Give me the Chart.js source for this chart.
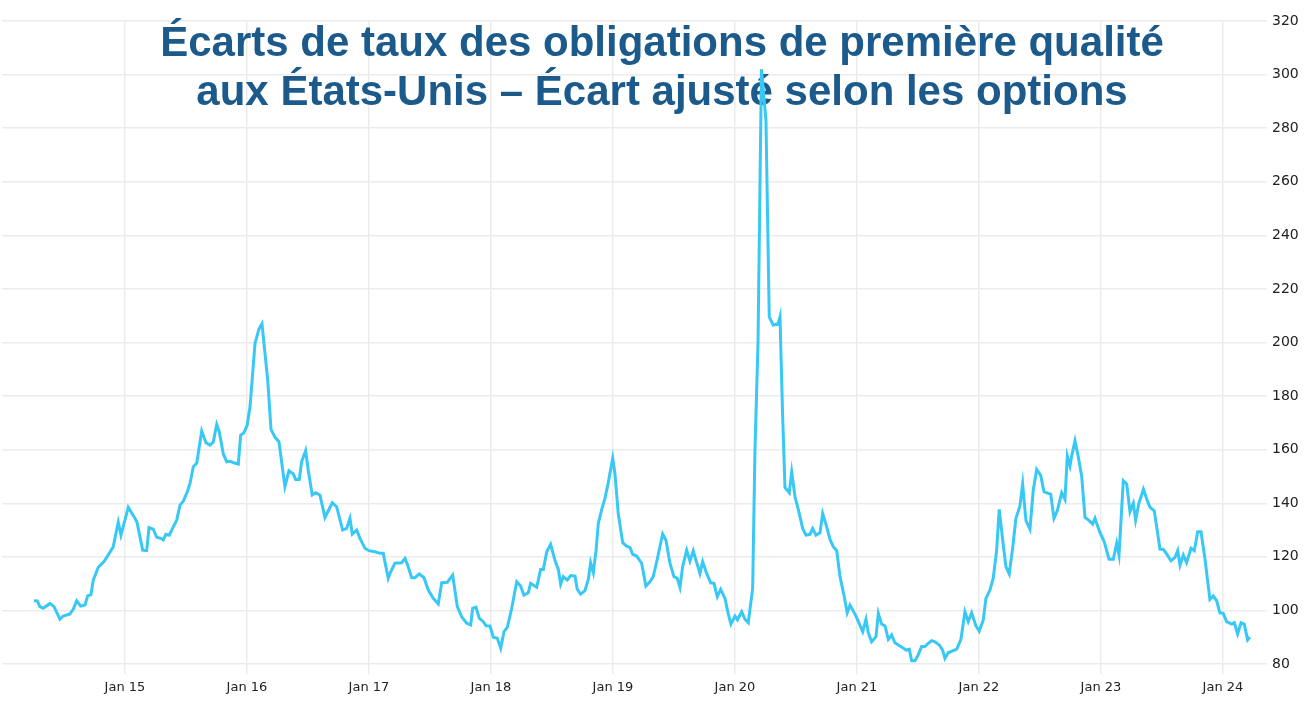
<!DOCTYPE html>
<html>
<head>
<meta charset="utf-8">
<script src="https://cdn.jsdelivr.net/npm/chart.js@4"></script>
<style>
  html, body { margin: 0; padding: 0; background: #fff; }
  #wrap { position: relative; width: 1312px; height: 708px; }
</style>
</head>
<body>
<div id="wrap"><canvas id="myChart" width="1312" height="708"></canvas></div>
<script>
// title lines
const titleLines = [
  'Écarts de taux des obligations de première qualité',
  'aux États-Unis – Écart ajusté selon les options'
];

// dates as decimal years
const dates = [
  2014.254, 2014.281, 2014.303, 2014.330, 2014.385, 2014.418, 2014.467, 2014.494, 2014.549, 2014.576,
  2014.604, 2014.637, 2014.672, 2014.694, 2014.721, 2014.740, 2014.781, 2014.828, 2014.871, 2014.904,
  2014.945, 2014.967, 2015.027, 2015.074, 2015.098, 2015.145, 2015.178, 2015.197, 2015.232, 2015.260,
  2015.293, 2015.314, 2015.336, 2015.363, 2015.396, 2015.424, 2015.451, 2015.478, 2015.511, 2015.533,
  2015.560, 2015.588, 2015.629, 2015.664, 2015.697, 2015.724, 2015.752, 2015.773, 2015.806, 2015.834,
  2015.861, 2015.893, 2015.929, 2015.948, 2015.975, 2016.002, 2016.025, 2016.066, 2016.098, 2016.123,
  2016.170, 2016.197, 2016.230, 2016.262, 2016.311, 2016.344, 2016.380, 2016.399, 2016.429, 2016.448,
  2016.481, 2016.502, 2016.535, 2016.563, 2016.598, 2016.639, 2016.699, 2016.735, 2016.784, 2016.817,
  2016.844, 2016.863, 2016.899, 2016.926, 2016.967, 2017.000, 2017.049, 2017.090, 2017.117, 2017.158,
  2017.178, 2017.213, 2017.268, 2017.295, 2017.314, 2017.350, 2017.377, 2017.412, 2017.451, 2017.486,
  2017.527, 2017.568, 2017.596, 2017.642, 2017.686, 2017.724, 2017.760, 2017.801, 2017.834, 2017.850,
  2017.877, 2017.904, 2017.937, 2017.959, 2017.992, 2018.019, 2018.052, 2018.080, 2018.107, 2018.134,
  2018.170, 2018.211, 2018.243, 2018.270, 2018.306, 2018.325, 2018.375, 2018.407, 2018.429, 2018.457,
  2018.489, 2018.525, 2018.552, 2018.571, 2018.593, 2018.625, 2018.653, 2018.689, 2018.707, 2018.735,
  2018.770, 2018.798, 2018.817, 2018.839, 2018.861, 2018.880, 2018.907, 2018.934, 2018.961, 2018.998,
  2019.016, 2019.043, 2019.080, 2019.112, 2019.139, 2019.161, 2019.194, 2019.235, 2019.270, 2019.303,
  2019.330, 2019.363, 2019.407, 2019.434, 2019.467, 2019.500, 2019.527, 2019.549, 2019.571, 2019.604,
  2019.631, 2019.658, 2019.680, 2019.713, 2019.735, 2019.768, 2019.801, 2019.828, 2019.855, 2019.883,
  2019.918, 2019.945, 2019.967, 2020.000, 2020.020, 2020.055, 2020.082, 2020.109, 2020.145, 2020.164,
  2020.189, 2020.217, 2020.254, 2020.281, 2020.314, 2020.355, 2020.369, 2020.391, 2020.410, 2020.445,
  2020.465, 2020.492, 2020.519, 2020.555, 2020.582, 2020.615, 2020.637, 2020.664, 2020.697, 2020.719,
  2020.752, 2020.779, 2020.806, 2020.834, 2020.861, 2020.896, 2020.920, 2020.943, 2020.992, 2021.047,
  2021.074, 2021.093, 2021.120, 2021.156, 2021.175, 2021.202, 2021.230, 2021.257, 2021.284, 2021.311,
  2021.352, 2021.385, 2021.402, 2021.429, 2021.448, 2021.475, 2021.502, 2021.530, 2021.557, 2021.584,
  2021.612, 2021.639, 2021.675, 2021.702, 2021.721, 2021.748, 2021.789, 2021.817, 2021.852, 2021.885,
  2021.912, 2021.940, 2021.975, 2022.002, 2022.035, 2022.057, 2022.090, 2022.117, 2022.145, 2022.166,
  2022.194, 2022.221, 2022.248, 2022.276, 2022.303, 2022.336, 2022.358, 2022.385, 2022.418, 2022.445,
  2022.473, 2022.506, 2022.533, 2022.568, 2022.588, 2022.615, 2022.642, 2022.678, 2022.705, 2022.724,
  2022.746, 2022.760, 2022.787, 2022.814, 2022.842, 2022.869, 2022.904, 2022.932, 2022.951, 2022.988,
  2023.027, 2023.066, 2023.101, 2023.129, 2023.148, 2023.183, 2023.211, 2023.238, 2023.265, 2023.284,
  2023.311, 2023.348, 2023.383, 2023.402, 2023.437, 2023.484, 2023.511, 2023.539, 2023.574, 2023.607,
  2023.629, 2023.648, 2023.675, 2023.702, 2023.738, 2023.765, 2023.793, 2023.820, 2023.852, 2023.893,
  2023.920, 2023.948, 2023.975, 2024.002, 2024.030, 2024.071, 2024.093, 2024.120, 2024.148, 2024.175,
  2024.202, 2024.221
];

// option-adjusted spread, bp
const spreads = [
  103.6, 103.5, 101.4, 100.8, 102.6, 101.4, 96.7, 97.9, 98.7, 100.4,
  103.6, 101.6, 102.0, 105.4, 105.9, 111.3, 116.1, 118.2, 121.3, 123.8,
  132.9, 128.1, 138.5, 135.0, 133.0, 122.5, 122.3, 130.9, 130.3, 127.3,
  126.9, 126.3, 128.4, 128.1, 131.2, 133.7, 139.3, 140.8, 144.3, 147.4,
  153.6, 154.9, 167.0, 162.6, 161.7, 162.9, 169.4, 166.7, 158.4, 155.5,
  155.7, 155.1, 154.6, 165.4, 166.3, 169.2, 176.0, 199.7, 205.0, 207.0,
  186.0, 167.6, 164.6, 163.0, 146.2, 152.1, 150.9, 148.9, 148.9, 155.5,
  159.6, 152.4, 143.1, 143.9, 143.1, 134.7, 140.2, 138.7, 130.0, 130.6,
  134.4, 128.5, 130.0, 126.9, 123.2, 122.3, 121.9, 121.3, 121.3, 112.0,
  114.4, 117.6, 117.8, 119.4, 117.3, 112.2, 112.2, 113.6, 112.2, 107.6,
  104.5, 102.4, 110.3, 110.5, 113.2, 101.4, 97.6, 95.2, 94.6, 100.8,
  101.2, 97.1, 95.8, 94.3, 94.2, 90.0, 89.6, 85.9, 92.1, 93.7,
  100.8, 110.7, 109.1, 105.7, 106.6, 110.1, 108.6, 115.3, 115.3, 121.9,
  124.7, 118.6, 115.3, 109.8, 112.6, 111.3, 113.0, 112.8, 107.9, 106.1,
  107.4, 111.6, 117.8, 114.1, 122.3, 132.5, 137.5, 141.8, 147.6, 156.8,
  151.2, 136.2, 125.3, 124.0, 123.5, 121.0, 120.3, 117.6, 109.1, 110.7,
  112.6, 119.1, 128.5, 126.3, 117.6, 112.6, 112.0, 108.6, 116.3, 122.5,
  118.4, 122.3, 118.8, 113.8, 118.2, 113.8, 110.3, 110.1, 105.1, 107.9,
  104.5, 98.7, 94.9, 97.9, 96.5, 99.5, 96.7, 95.4, 108.2, 159.9,
  200.0, 302.0, 283.0, 209.6, 206.5, 207.1, 209.6, 172.3, 145.9, 143.9,
  151.7, 142.4, 137.7, 130.6, 128.1, 128.4, 130.6, 128.1, 129.0, 136.2,
  131.2, 126.5, 123.8, 122.3, 112.6, 105.1, 99.1, 102.0, 97.9, 92.1,
  96.7, 91.7, 88.3, 90.2, 98.9, 94.9, 94.2, 89.2, 90.8, 87.9,
  86.7, 85.8, 85.2, 85.5, 81.2, 81.2, 83.4, 86.5, 86.5, 87.7,
  88.7, 88.3, 87.1, 85.2, 82.1, 84.2, 85.0, 85.5, 89.2, 99.5,
  95.8, 99.1, 94.2, 92.3, 96.4, 104.5, 107.6, 112.0, 122.5, 137.7,
  126.5, 116.3, 113.6, 123.2, 134.4, 139.0, 147.2, 133.5, 130.3, 144.9,
  152.6, 150.4, 144.3, 143.7, 143.4, 134.4, 137.2, 143.9, 141.4, 157.6,
  153.9, 157.6, 163.3, 157.3, 150.1, 134.7, 133.5, 132.2, 134.4, 129.5,
  125.6, 119.1, 119.1, 125.1, 120.7, 148.4, 147.2, 136.8, 140.0, 133.7,
  140.0, 145.2, 140.6, 138.5, 137.2, 122.8, 122.8, 121.0, 118.5, 119.8,
  122.3, 116.9, 120.7, 117.8, 123.2, 122.3, 129.4, 129.4, 119.4, 104.1,
  105.4, 103.6, 99.1, 98.9, 95.8, 94.9, 95.4, 91.2, 95.4, 94.9,
  89.0, 90.0
];

// x tick positions (Jan 1st of each year) and y ticks
const yearTicks = [2015, 2016, 2017, 2018, 2019, 2020, 2021, 2022, 2023, 2024];
const yMin = 80, yMax = 320, yStep = 20;

const points = dates.map((d, i) => ({ x: d, y: spreads[i] }));

// title is drawn over the plot, under the line
const titlePlugin = {
  id: 'overTitle',
  beforeDatasetsDraw(chart) {
    const ctx = chart.ctx;
    ctx.save();
    ctx.font = 'bold 42px "Liberation Sans", Arial, sans-serif';
    ctx.fillStyle = '#1b5a8b';
    ctx.textAlign = 'center';
    ctx.textBaseline = 'alphabetic';
    ctx.fillText(titleLines[0], 662, 56);
    ctx.fillText(titleLines[1], 662, 105);
    ctx.restore();
  }
};

const config = {
  type: 'line',
  data: {
    datasets: [{
      data: points,
      borderColor: '#38c8f6',
      borderWidth: 3,
      pointRadius: 0,
      tension: 0,
      fill: false
    }]
  },
  options: {
    responsive: false,
    animation: false,
    layout: { padding: { top: 21, left: 2, right: 0, bottom: 0 } },
    plugins: {
      legend: { display: false },
      tooltip: { enabled: false }
    },
    scales: {
      x: {
        type: 'linear',
        min: 2013.992,
        max: 2024.32,
        afterBuildTicks: (scale) => { scale.ticks = yearTicks.map(v => ({ value: v })); },
        afterFit: (scale) => { scale.height = 44; },
        grid: { color: '#ececec', lineWidth: 1.5, tickLength: 10, drawTicks: true },
        border: { display: false },
        ticks: {
          padding: 6,
          color: '#222',
          font: { family: '"DejaVu Sans", sans-serif', size: 13 },
          maxRotation: 0,
          callback: (v) => 'Jan ' + String(v).slice(2)
        }
      },
      y: {
        position: 'right',
        min: yMin,
        max: yMax,
        afterFit: (scale) => { scale.width = 50; },
        grid: { color: '#ececec', lineWidth: 1.5, tickLength: 5 },
        border: { display: false },
        ticks: {
          stepSize: yStep,
          padding: 5,
          color: '#222',
          font: { family: '"DejaVu Sans", sans-serif', size: 14 }
        }
      }
    }
  },
  plugins: [titlePlugin]
};

new Chart(document.getElementById('myChart'), config);
</script>
</body>
</html>
